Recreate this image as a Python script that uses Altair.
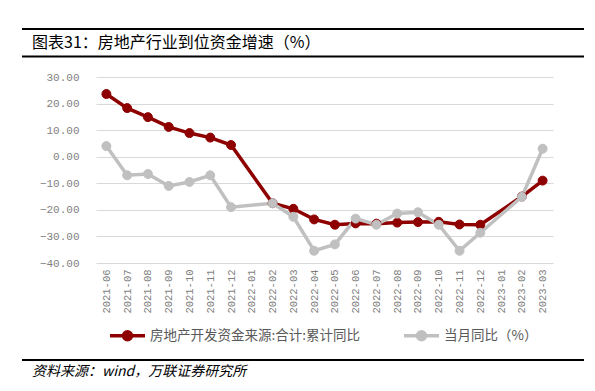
import altair as alt
import pandas as pd

months = ["2021-06", "2021-07", "2021-08", "2021-09", "2021-10", "2021-11", "2021-12",
          "2022-01", "2022-02", "2022-03", "2022-04", "2022-05", "2022-06", "2022-07",
          "2022-08", "2022-09", "2022-10", "2022-11", "2022-12", "2023-01", "2023-02", "2023-03"]
cumulative = [23.6, 18.3, 14.9, 11.2, 8.9, 7.2, 4.4, None, -17.5, -19.6, -23.6, -25.6,
              -25.1, -25.2, -24.8, -24.6, -24.5, -25.5, -25.6, None, -15.0, -9.0]
monthly = [4.0, -7.0, -6.5, -11.0, -9.5, -7.0, -19.0, None, -17.5, -22.6, -35.4, -33.0,
           -23.3, -25.6, -21.4, -20.9, -25.6, -35.4, -28.6, None, -15.1, 3.0]
series_names = ["房地产开发资金来源:合计:累计同比", "当月同比（%）"]
colors = ["#8E0000", "#C0C0C0"]
y_ticks = [30, 20, 10, 0, -10, -20, -30, -40]

rows = []
for name, vals in zip(series_names, [cumulative, monthly]):
    for m, v in zip(months, vals):
        if v is not None:
            rows.append({"month": m, "value": v, "series": name})
df = pd.DataFrame(rows)

x = alt.X("month:N", scale=alt.Scale(type="point", domain=months, padding=0.5),
          axis=alt.Axis(title=None, labelAngle=-90, labelPadding=6, ticks=False, domain=False,
                        labelFont="Liberation Mono", labelFontSize=10.5, labelColor="#7F7F7F",
                        labelBaseline="middle"))
y = alt.Y("value:Q", scale=alt.Scale(domain=[-40, 30], nice=False, zero=False),
          axis=alt.Axis(title=None, values=y_ticks, format=".2f", ticks=False, domain=False,
                        labelPadding=17, labelFont="Liberation Mono", labelFontSize=11,
                        labelColor="#7F7F7F", gridColor="#D9D9D9", gridWidth=1.2))
cscale = alt.Scale(domain=series_names, range=colors)

legend = alt.Legend(
    title=None, orient="none", legendX=18, legendY=245, direction="horizontal",
    symbolType="M -1.5 0 L 1.5 0 M 0.34 0 A 0.34 0.34 0 1 1 -0.34 0 A 0.34 0.34 0 1 1 0.34 0",
    symbolSize=544, symbolStrokeWidth=3.5, labelFont="Noto Sans CJK SC", labelFontSize=13.5,
    labelColor="#595959", labelOffset=9, columnPadding=36, labelLimit=400,
)

lines = alt.Chart(df).mark_line(strokeWidth=3.5).encode(
    x=x, y=y,
    stroke=alt.Stroke("series:N", scale=cscale, legend=legend),
)
points = alt.Chart(df).mark_point(filled=True, size=80, opacity=1, strokeWidth=1).encode(
    x=x, y=y,
    fill=alt.Fill("series:N", scale=cscale, legend=legend),
    stroke=alt.Stroke("series:N", scale=cscale, legend=legend),
)

one = alt.Data(values=[{}])
title_text = alt.Chart(one).mark_text(
    text="图表31：房地产行业到位资金增速（%）", align="left", baseline="middle",
    font="Noto Sans CJK SC", fontSize=16, color="#000000",
).encode(x=alt.value(-64), y=alt.value(-34))
rule_top = alt.Chart(one).mark_rule(color="#000000", strokeWidth=2).encode(
    x=alt.value(-74), x2=alt.value(488), y=alt.value(-48))
rule_mid = alt.Chart(one).mark_rule(color="#000000", strokeWidth=2).encode(
    x=alt.value(-74), x2=alt.value(488), y=alt.value(-20.5))
rule_bot = alt.Chart(one).mark_rule(color="#000000", strokeWidth=2).encode(
    x=alt.value(-74), x2=alt.value(488), y=alt.value(283))
source_text = alt.Chart(one).mark_text(
    text="资料来源：wind，万联证券研究所", align="left", baseline="middle",
    font="Noto Sans CJK SC", fontSize=14, fontStyle="italic", color="#000000",
).encode(x=alt.value(-64), y=alt.value(295))

chart = alt.layer(
    rule_top, rule_mid, title_text, lines, points, rule_bot, source_text
).properties(
    width=457, height=186,
    autosize=alt.AutoSizeParams(type="none"),
    padding={"left": 88, "top": 69, "right": 34, "bottom": 119},
).configure_view(stroke=None).configure_axis(grid=True).configure_axisX(grid=False)

chart.save("out.html", embed_options={"renderer": "svg", "actions": False})
